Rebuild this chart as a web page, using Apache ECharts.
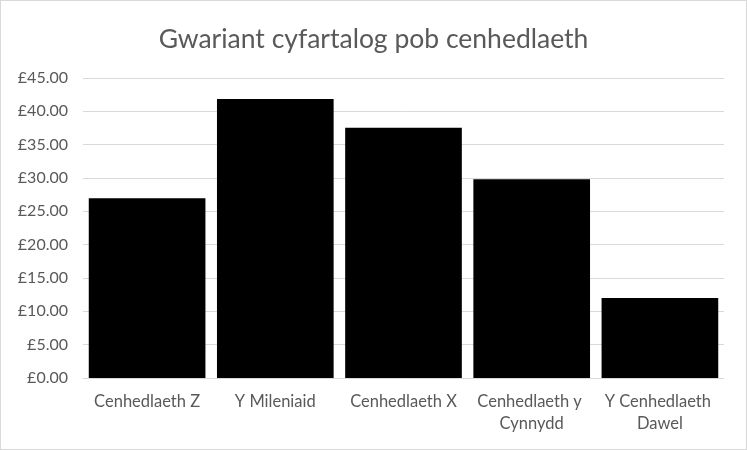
<!DOCTYPE html>
<html>
<head>
<meta charset="utf-8">
<script src="https://cdn.jsdelivr.net/npm/echarts@6/dist/echarts.min.js"></script>
<style>
  html, body { margin: 0; padding: 0; background: #fff; }
  #main { width: 747px; height: 450px; box-sizing: border-box; border: 1px solid #d9d9d9; }
</style>
</head>
<body>
<div id="main"></div>
<script>
// data
var categories = ['Cenhedlaeth Z', 'Y Mileniaid', 'Cenhedlaeth X', 'Cenhedlaeth y Cynnydd', 'Y Cenhedlaeth Dawel'];
var spend = [26.95, 41.85, 37.55, 29.8, 12.0];
var chartTitle = 'Gwariant cyfartalog pob cenhedlaeth';

var font = 'Lato, "Open Sans", sans-serif';
var myChart = echarts.init(document.getElementById('main'));
myChart.setOption({
    animation: false,
    title: {
        text: chartTitle,
        left: 'center',
        top: 20,
        textStyle: { color: '#595959', fontSize: 26.5, fontWeight: 'normal', fontFamily: font }
    },
    grid: { left: 82, right: 22, top: 77, bottom: 71 },
    xAxis: {
        type: 'category',
        data: categories,
        axisLine: { lineStyle: { color: '#d9d9d9', width: 1 } },
        axisTick: { show: false },
        axisLabel: {
            color: '#595959', fontSize: 16.5, fontFamily: font, margin: 13,
            width: 126, overflow: 'break', lineHeight: 22, interval: 0
        }
    },
    yAxis: {
        type: 'value',
        min: 0,
        max: 45,
        interval: 5,
        axisLine: { show: false },
        axisTick: { show: false },
        splitLine: { lineStyle: { color: '#d9d9d9', width: 1 } },
        axisLabel: {
            color: '#595959', fontSize: 16, fontFamily: font, margin: 15,
            formatter: function (v) { return '£' + v.toFixed(2); }
        }
    },
    series: [{
        type: 'bar',
        data: spend,
        barCategoryGap: '9%',
        itemStyle: { color: '#000000' }
    }]
});
</script>
</body>
</html>
